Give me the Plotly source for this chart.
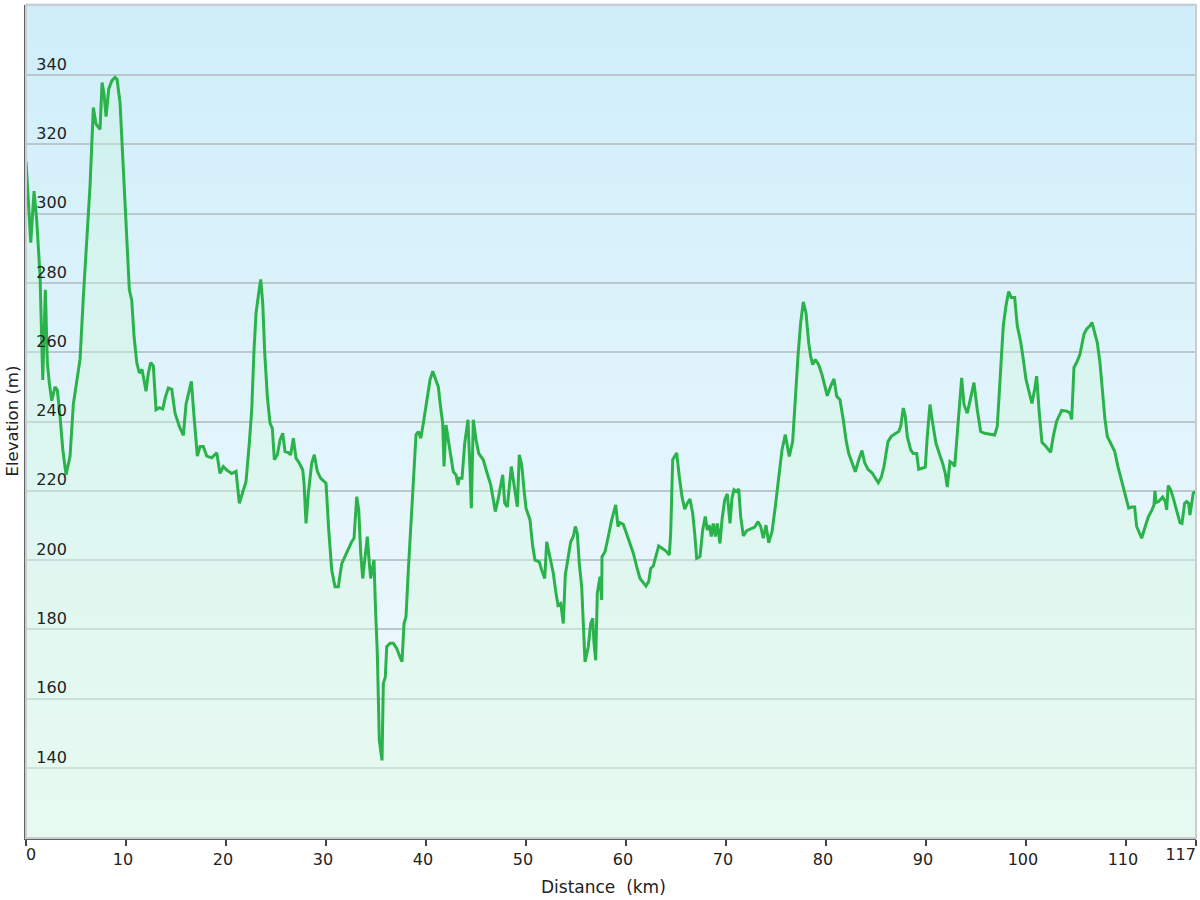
import plotly.graph_objects as go

# ---- data (distance km, elevation m) ----
distance_km = [
    0.0, 0.47, 0.8, 1.07, 1.4, 1.67, 1.93, 2.13, 2.33, 2.57, 2.9, 3.13, 3.4, 3.67, 4.0, 4.4, 4.73, 5.07, 5.4, 5.73,
    6.07, 6.4, 6.73, 7.0, 7.4, 7.6, 7.8, 8.0, 8.27, 8.57, 8.9, 9.1, 9.4, 9.73, 10.07, 10.33, 10.57, 10.8, 11.07, 11.33,
    11.6, 11.8, 12.0, 12.23, 12.47, 12.73, 13.0, 13.33, 13.67, 13.93, 14.23, 14.57, 14.9, 15.33, 15.73, 16.0, 16.33,
    16.53, 16.8, 17.13, 17.4, 17.73, 18.07, 18.57, 19.07, 19.4, 19.73, 20.07, 20.57, 21.0, 21.33, 21.67, 22.0, 22.33,
    22.57, 22.8, 23.0, 23.27, 23.47, 23.67, 23.87, 24.13, 24.4, 24.63, 24.83, 25.13, 25.4, 25.67, 25.9, 26.23, 26.47,
    26.73, 27.0, 27.33, 27.67, 27.8, 28.0, 28.23, 28.57, 28.83, 29.13, 29.47, 30.0, 30.27, 30.57, 30.9, 31.23, 31.57,
    31.9, 32.23, 32.57, 32.8, 33.07, 33.27, 33.47, 33.67, 33.93, 34.13, 34.33, 34.47, 34.67, 34.8, 34.93, 35.13, 35.33,
    35.6, 35.73, 35.93, 36.07, 36.4, 36.73, 37.07, 37.4, 37.6, 37.8, 38.0, 38.23, 38.47, 38.73, 39.0, 39.23, 39.47,
    39.73, 40.13, 40.4, 40.67, 41.0, 41.23, 41.47, 41.67, 41.8, 42.0, 42.33, 42.73, 43.0, 43.2, 43.33, 43.6, 43.87,
    44.2, 44.4, 44.53, 44.73, 45.0, 45.27, 45.73, 46.07, 46.47, 46.73, 46.93, 47.2, 47.47, 47.67, 47.87, 48.13, 48.53,
    48.8, 49.13, 49.33, 49.57, 49.8, 50.0, 50.4, 50.67, 50.9, 51.33, 51.57, 51.87, 52.07, 52.4, 52.73, 53.0, 53.2,
    53.47, 53.73, 53.93, 54.2, 54.47, 54.73, 54.93, 55.13, 55.33, 55.57, 55.73, 55.9, 56.23, 56.47, 56.67, 56.8, 56.97,
    57.13, 57.4, 57.57, 57.6, 57.9, 58.23, 58.57, 58.97, 59.2, 59.4, 59.73, 60.07, 60.4, 60.73, 61.07, 61.4, 61.73,
    62.0, 62.27, 62.47, 62.73, 63.0, 63.27, 63.6, 64.0, 64.33, 64.47, 64.67, 64.87, 65.07, 65.33, 65.6, 65.87, 66.13,
    66.4, 66.67, 66.87, 67.07, 67.4, 67.67, 67.93, 68.13, 68.33, 68.53, 68.73, 68.93, 69.13, 69.4, 69.6, 69.87, 70.13,
    70.4, 70.6, 70.8, 71.07, 71.27, 71.47, 71.73, 72.07, 72.47, 72.87, 73.2, 73.47, 73.73, 74.0, 74.27, 74.6, 74.93,
    75.27, 75.6, 75.93, 76.33, 76.67, 76.93, 77.2, 77.47, 77.73, 78.0, 78.27, 78.47, 78.67, 78.93, 79.27, 79.6, 79.87,
    80.13, 80.47, 80.8, 81.07, 81.4, 81.73, 82.0, 82.27, 82.6, 82.93, 83.27, 83.6, 83.87, 84.2, 84.6, 84.93, 85.23,
    85.53, 85.8, 86.2, 86.53, 86.87, 87.27, 87.47, 87.73, 87.93, 88.13, 88.47, 88.73, 89.07, 89.27, 89.6, 89.93, 90.13,
    90.4, 90.67, 91.0, 91.33, 91.67, 91.93, 92.13, 92.4, 92.67, 92.87, 93.2, 93.57, 93.8, 94.13, 94.47, 94.8, 95.13,
    95.47, 95.87, 96.27, 96.6, 96.87, 97.13, 97.4, 97.73, 98.0, 98.27, 98.53, 98.87, 99.13, 99.47, 99.73, 100.0,
    100.33, 100.6, 100.87, 101.07, 101.33, 101.6, 102.0, 102.47, 102.73, 103.07, 103.57, 104.07, 104.4, 104.57, 104.8,
    105.07, 105.4, 105.8, 106.07, 106.4, 106.6, 106.87, 107.13, 107.4, 107.67, 107.9, 108.13, 108.47, 108.87, 109.2,
    109.53, 109.87, 110.27, 110.6, 110.87, 111.07, 111.33, 111.57, 111.87, 112.23, 112.6, 112.8, 112.9, 113.0, 113.27,
    113.67, 113.93, 114.07, 114.23, 114.47, 114.73, 115.07, 115.4, 115.6, 115.87, 116.07, 116.27, 116.4, 116.6,
    116.73, 117.0,
]

elevation_m = [
    315, 291.6, 306.5, 298, 282, 252, 278, 257, 251, 246, 250, 249, 241.5, 232, 224.6, 230, 245, 252, 258, 276,
    291.6, 308, 330.6, 325.8, 324.3, 337.8, 334.5, 328, 336, 338.3, 339.3, 338.8, 332, 312.8, 293.5, 278, 275, 264.6,
    257, 254, 255, 251.6, 248.7, 254, 257, 256, 243.4, 244, 243.6, 247, 249.7, 249.3, 242.4, 238.6, 236, 245, 249,
    251.6, 241.5, 230, 232.8, 232.8, 230, 229.5, 231, 225, 227, 226, 225, 225.6, 216.4, 219.8, 222.7, 233.8, 243.4,
    260.7, 271.3, 277.1, 281, 274.2, 259.8, 247.2, 239.5, 238, 229, 230.4, 234.7, 236.6, 231.3, 231, 230.4, 235.2,
    229.4, 228, 226, 222.2, 210.6, 219.3, 228, 230.4, 225.6, 223.6, 222.2, 208.7, 197.1, 192.3, 192.3, 199, 201,
    203.4, 205.3, 206.3, 218.3, 214.5, 202, 194.7, 201, 206.8, 199, 194.7, 198.1, 200, 187.5, 173, 148, 142.2, 164.4,
    166.3, 175, 176, 176, 174.5, 172, 170.7, 181.7, 183.7, 197.1, 209.7, 224.1, 236.2, 237.1, 235.2, 239.5, 247.2,
    252, 254.5, 252, 250, 243.9, 239.5, 227, 239, 232.8, 225.5, 224.6, 221.7, 223.6, 223.6, 233.7, 240.5, 226, 215,
    240.5, 234.7, 230.8, 228.9, 225.5, 221.7, 217.4, 214, 217.4, 221.7, 224.6, 216.4, 215.4, 227, 222.2, 215.4,
    230.4, 227.5, 220.3, 215, 211.6, 203.9, 200, 199.5, 197.1, 194.7, 205.3, 201, 196.2, 190.4, 187, 187.5, 181.7,
    195.7, 200.5, 205.3, 206.8, 209.7, 207.7, 199, 192.3, 180.8, 170.6, 175, 181.7, 183.2, 176, 171.1, 190.4, 195.2,
    188.5, 201, 202.4, 206.8, 211.6, 215.9, 209.7, 210.8, 210.3, 207.5, 205, 202, 198.1, 194.7, 193.5, 192.5, 193.8,
    197.6, 198.3, 201, 204.1, 203.4, 202.6, 201.5, 207.7, 229, 230, 230.9, 224.1, 218.3, 214.7, 216.4, 217.6, 213.5,
    207.7, 200.5, 201, 208.7, 212.6, 208.7, 210.1, 206.8, 210.6, 206.8, 210.6, 204.8, 211.6, 217.4, 219.1, 210.6,
    217.9, 220.3, 219.8, 220.5, 212.6, 207, 208.5, 208.9, 209.5, 211.1, 209.7, 206.3, 210.1, 205, 208.2, 215.4, 224.1,
    231.8, 236.2, 229.9, 234.3, 247.3, 258.8, 268.5, 274.5, 271.4, 262.7, 258.8, 256.4, 257.9, 256.4, 253.5, 250.2,
    247.4, 250.2, 252.3, 247.3, 246.3, 240.5, 234.7, 230.8, 228.4, 225.5, 228.9, 231.6, 228.1, 226.2, 225.2, 223.6,
    222.3, 223.9, 227, 234.2, 235.7, 236.4, 237.1, 238.6, 243.9, 241.5, 235.7, 231.8, 230.8, 230.8, 226.2, 226.5,
    226.8, 235.7, 244.9, 239.5, 233.7, 230.8, 227.9, 225, 221.1, 228.4, 227.9, 227, 240.5, 252.6, 244.9, 242.4, 246.8,
    251.2, 243.4, 237.1, 236.6, 236.4, 236.1, 236.1, 238.6, 250.2, 267.6, 273.4, 277.5, 275.8, 275.8, 267.6, 263, 258,
    252.2, 248.3, 245.2, 249.3, 253.1, 242.5, 234, 232.8, 231.1, 235.7, 240.1, 243.2, 243, 242.5, 240.6, 255.6, 257,
    259.4, 265.2, 266.7, 267.6, 268.6, 265.7, 262.8, 257, 247.3, 240.6, 235.7, 233.8, 231.4, 227, 223.2, 219.3, 215,
    215.3, 215.3, 209.7, 207.7, 206.3, 209.2, 212.4, 214.5, 215.9, 220, 216.6, 216.9, 218.2, 216.9, 214.5, 221.5,
    220.3, 217.9, 214.5, 210.8, 210.6, 216.4, 216.9, 216.4, 213, 216.4, 219.3, 219.8,
]

x_tick_vals = [0, 10, 20, 30, 40, 50, 60, 70, 80, 90, 100, 110, 117]
x_tick_text = ["0", "10", "20", "30", "40", "50", "60", "70", "80", "90", "100", "110", "117"]
y_tick_vals = [140, 160, 180, 200, 220, 240, 260, 280, 300, 320, 340]

FONT = "DejaVu Sans"
TICKFONT = dict(family=FONT, size=16, color="#222")
X_RANGE = [-0.005, 117.005]

# first and last labels sit beside their ticks (left/right aligned), the rest centred
mid_text = ["" if i in (0, len(x_tick_text) - 1) else t for i, t in enumerate(x_tick_text)]

fig = go.Figure()
fig.add_trace(go.Scatter(
    x=distance_km, y=elevation_m, mode="lines",
    line=dict(color="#2BB34B", width=3),
    fill="tozeroy",
    fillgradient=dict(type="vertical", start=120, stop=340,
                      colorscale=[[0, "rgba(222,250,232,0.55)"], [1, "rgba(200,245,215,0.30)"]]),
    hoverinfo="x+y", showlegend=False,
))
# empty traces so the two label-only overlay axes get drawn (they draw nothing themselves)
for ax in ("x2", "x3"):
    fig.add_trace(go.Scatter(x=[], y=[], xaxis=ax, yaxis="y", mode="lines",
                             showlegend=False, hoverinfo="skip"))

# vertical background gradient (light blue at top -> pale at bottom)
shapes = []
n_bands = 90
top_c = (207, 238, 250)
bot_c = (243, 250, 253)
for i in range(n_bands):
    t = i / (n_bands - 1)
    c = tuple(round(bot_c[k] + (top_c[k] - bot_c[k]) * t) for k in range(3))
    shapes.append(dict(type="rect", xref="paper", yref="paper", layer="below",
                       x0=0, x1=1, y0=i / n_bands, y1=(i + 1) / n_bands + 0.002,
                       line=dict(width=0), fillcolor="rgb(%d,%d,%d)" % c))
# light frame at top/right
shapes.append(dict(type="rect", xref="paper", yref="paper", layer="above",
                   x0=0, x1=1, y0=0, y1=1, line=dict(color="#C9CDCF", width=2)))

side_axis = dict(range=X_RANGE, overlaying="x", anchor="y", side="bottom",
                 showgrid=False, zeroline=False, showline=False, automargin=False,
                 ticks="", ticklabeloverflow="allow", tickfont=TICKFONT)

fig.update_layout(
    width=1200, height=900,
    margin=dict(l=26, r=4, t=5, b=62, autoexpand=False),
    paper_bgcolor="white", plot_bgcolor="rgba(0,0,0,0)",
    font=dict(family=FONT, size=16, color="#222"),
    shapes=shapes,
    xaxis=dict(range=X_RANGE, tickvals=x_tick_vals, ticktext=mid_text,
               showgrid=False, zeroline=False, automargin=False,
               showline=True, linecolor="#606366", linewidth=2,
               ticks="outside", ticklen=6, tickwidth=1.5, tickcolor="#444",
               ticklabelshift=-3, ticklabeloverflow="allow",
               tickfont=TICKFONT),
    xaxis2=dict(side_axis, tickvals=[x_tick_vals[0]], ticktext=[x_tick_text[0]],
                ticklabelposition="outside right", ticklabelstandoff=5),
    xaxis3=dict(side_axis, tickvals=[x_tick_vals[-1]], ticktext=[x_tick_text[-1]],
                ticklabelposition="outside left", ticklabelstandoff=5),
    yaxis=dict(range=[119.8, 360.2], tickvals=y_tick_vals,
               showgrid=True, gridcolor="#BAC7CB", gridwidth=2, zeroline=False, automargin=False,
               showline=True, linecolor="#606366", linewidth=2,
               ticks="", ticklabelposition="outside", ticklabelstandoff=-46, ticklabelshift=-11,
               ticklabeloverflow="allow",
               tickfont=TICKFONT),
    annotations=[
        dict(text="Distance\u00a0 (km)", xref="paper", yref="paper", x=0.494, y=0,
             yshift=-49, xanchor="center", yanchor="middle", showarrow=False,
             font=dict(family=FONT, size=17, color="#222")),
        dict(text="Elevation (m)", xref="paper", yref="paper", x=0, y=0.5,
             xshift=-14, xanchor="center", yanchor="middle", textangle=-90, showarrow=False,
             font=dict(family=FONT, size=16.5, color="#222")),
    ],
)

fig.write_html("out.html", config={"displayModeBar": False},
               post_script="document.body.style.margin='0px';document.body.style.overflow='hidden';")
